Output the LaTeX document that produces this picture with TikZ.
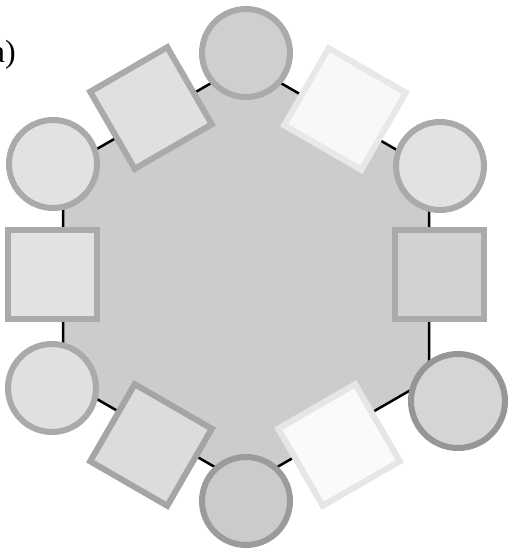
\documentclass[tikz,border=0pt]{standalone}
\usepackage{fontspec}
\setmainfont{Liberation Serif}
\begin{document}
\begin{tikzpicture}[x=1pt,y=-1pt,
  hexfill/.style={fill=hexgray,draw=black,line width=2.5pt,line join=miter},
  circ/.style={circle,inner sep=0pt,minimum size=88pt,line width=6pt},
  sq/.style={rectangle,inner sep=0pt,minimum size=89pt,line width=6pt},
]
\definecolor{hexgray}{HTML}{CCCCCC}
\useasboundingbox (0,0) rectangle (508,548);
\fill[white] (0,0) rectangle (508,548);
% hexagon vertices
\coordinate (vT) at (246,63);
\coordinate (vUR) at (429,168.5);
\coordinate (vLR) at (429,379.5);
\coordinate (vB) at (246,485);
\coordinate (vLL) at (63,379.5);
\coordinate (vUL) at (63,168.5);
\draw[hexfill] (vT) -- (vUR) -- (vLR) -- (vB) -- (vLL) -- (vUL) -- cycle;
% squares
\node[sq,fill={rgb,255:red,224;green,224;blue,224},draw={rgb,255:red,170;green,170;blue,170},rotate=30] (sTL) at (151,108) {};
\node[sq,fill={rgb,255:red,248;green,248;blue,248},draw={rgb,255:red,232;green,232;blue,232},rotate=-30] (sTR) at (345,109) {};
\node[sq,fill={rgb,255:red,210;green,210;blue,210},draw={rgb,255:red,170;green,170;blue,170}] (sR) at (439,274) {};
\node[sq,fill={rgb,255:red,250;green,250;blue,250},draw={rgb,255:red,230;green,230;blue,230},rotate=30] (sLR) at (339,445) {};
\node[sq,fill={rgb,255:red,220;green,220;blue,220},draw={rgb,255:red,165;green,165;blue,165},rotate=-30] (sLL) at (151,445) {};
\node[sq,fill={rgb,255:red,226;green,226;blue,226},draw={rgb,255:red,170;green,170;blue,170}] (sL) at (52,274) {};
% circles
\node[circ,fill={rgb,255:red,207;green,207;blue,207},draw={rgb,255:red,170;green,170;blue,170}] (cT) at (246,53) {};
\node[circ,fill={rgb,255:red,226;green,226;blue,226},draw={rgb,255:red,170;green,170;blue,170}] (cUR) at (440,166) {};
\node[circ,minimum size=94pt,fill={rgb,255:red,213;green,213;blue,213},draw={rgb,255:red,150;green,150;blue,150}] (cLR) at (458,401) {};
\node[circ,fill={rgb,255:red,203;green,203;blue,203},draw={rgb,255:red,155;green,155;blue,155}] (cB) at (246,501) {};
\node[circ,fill={rgb,255:red,224;green,224;blue,224},draw={rgb,255:red,170;green,170;blue,170}] (cLL) at (52,388) {};
\node[circ,fill={rgb,255:red,226;green,226;blue,226},draw={rgb,255:red,170;green,170;blue,170}] (cUL) at (53,164) {};
% label
\node[anchor=base east,inner sep=0pt,font=\fontsize{32}{36}\selectfont] (lab) at (16,63) {a)};
\end{tikzpicture}
\end{document}
